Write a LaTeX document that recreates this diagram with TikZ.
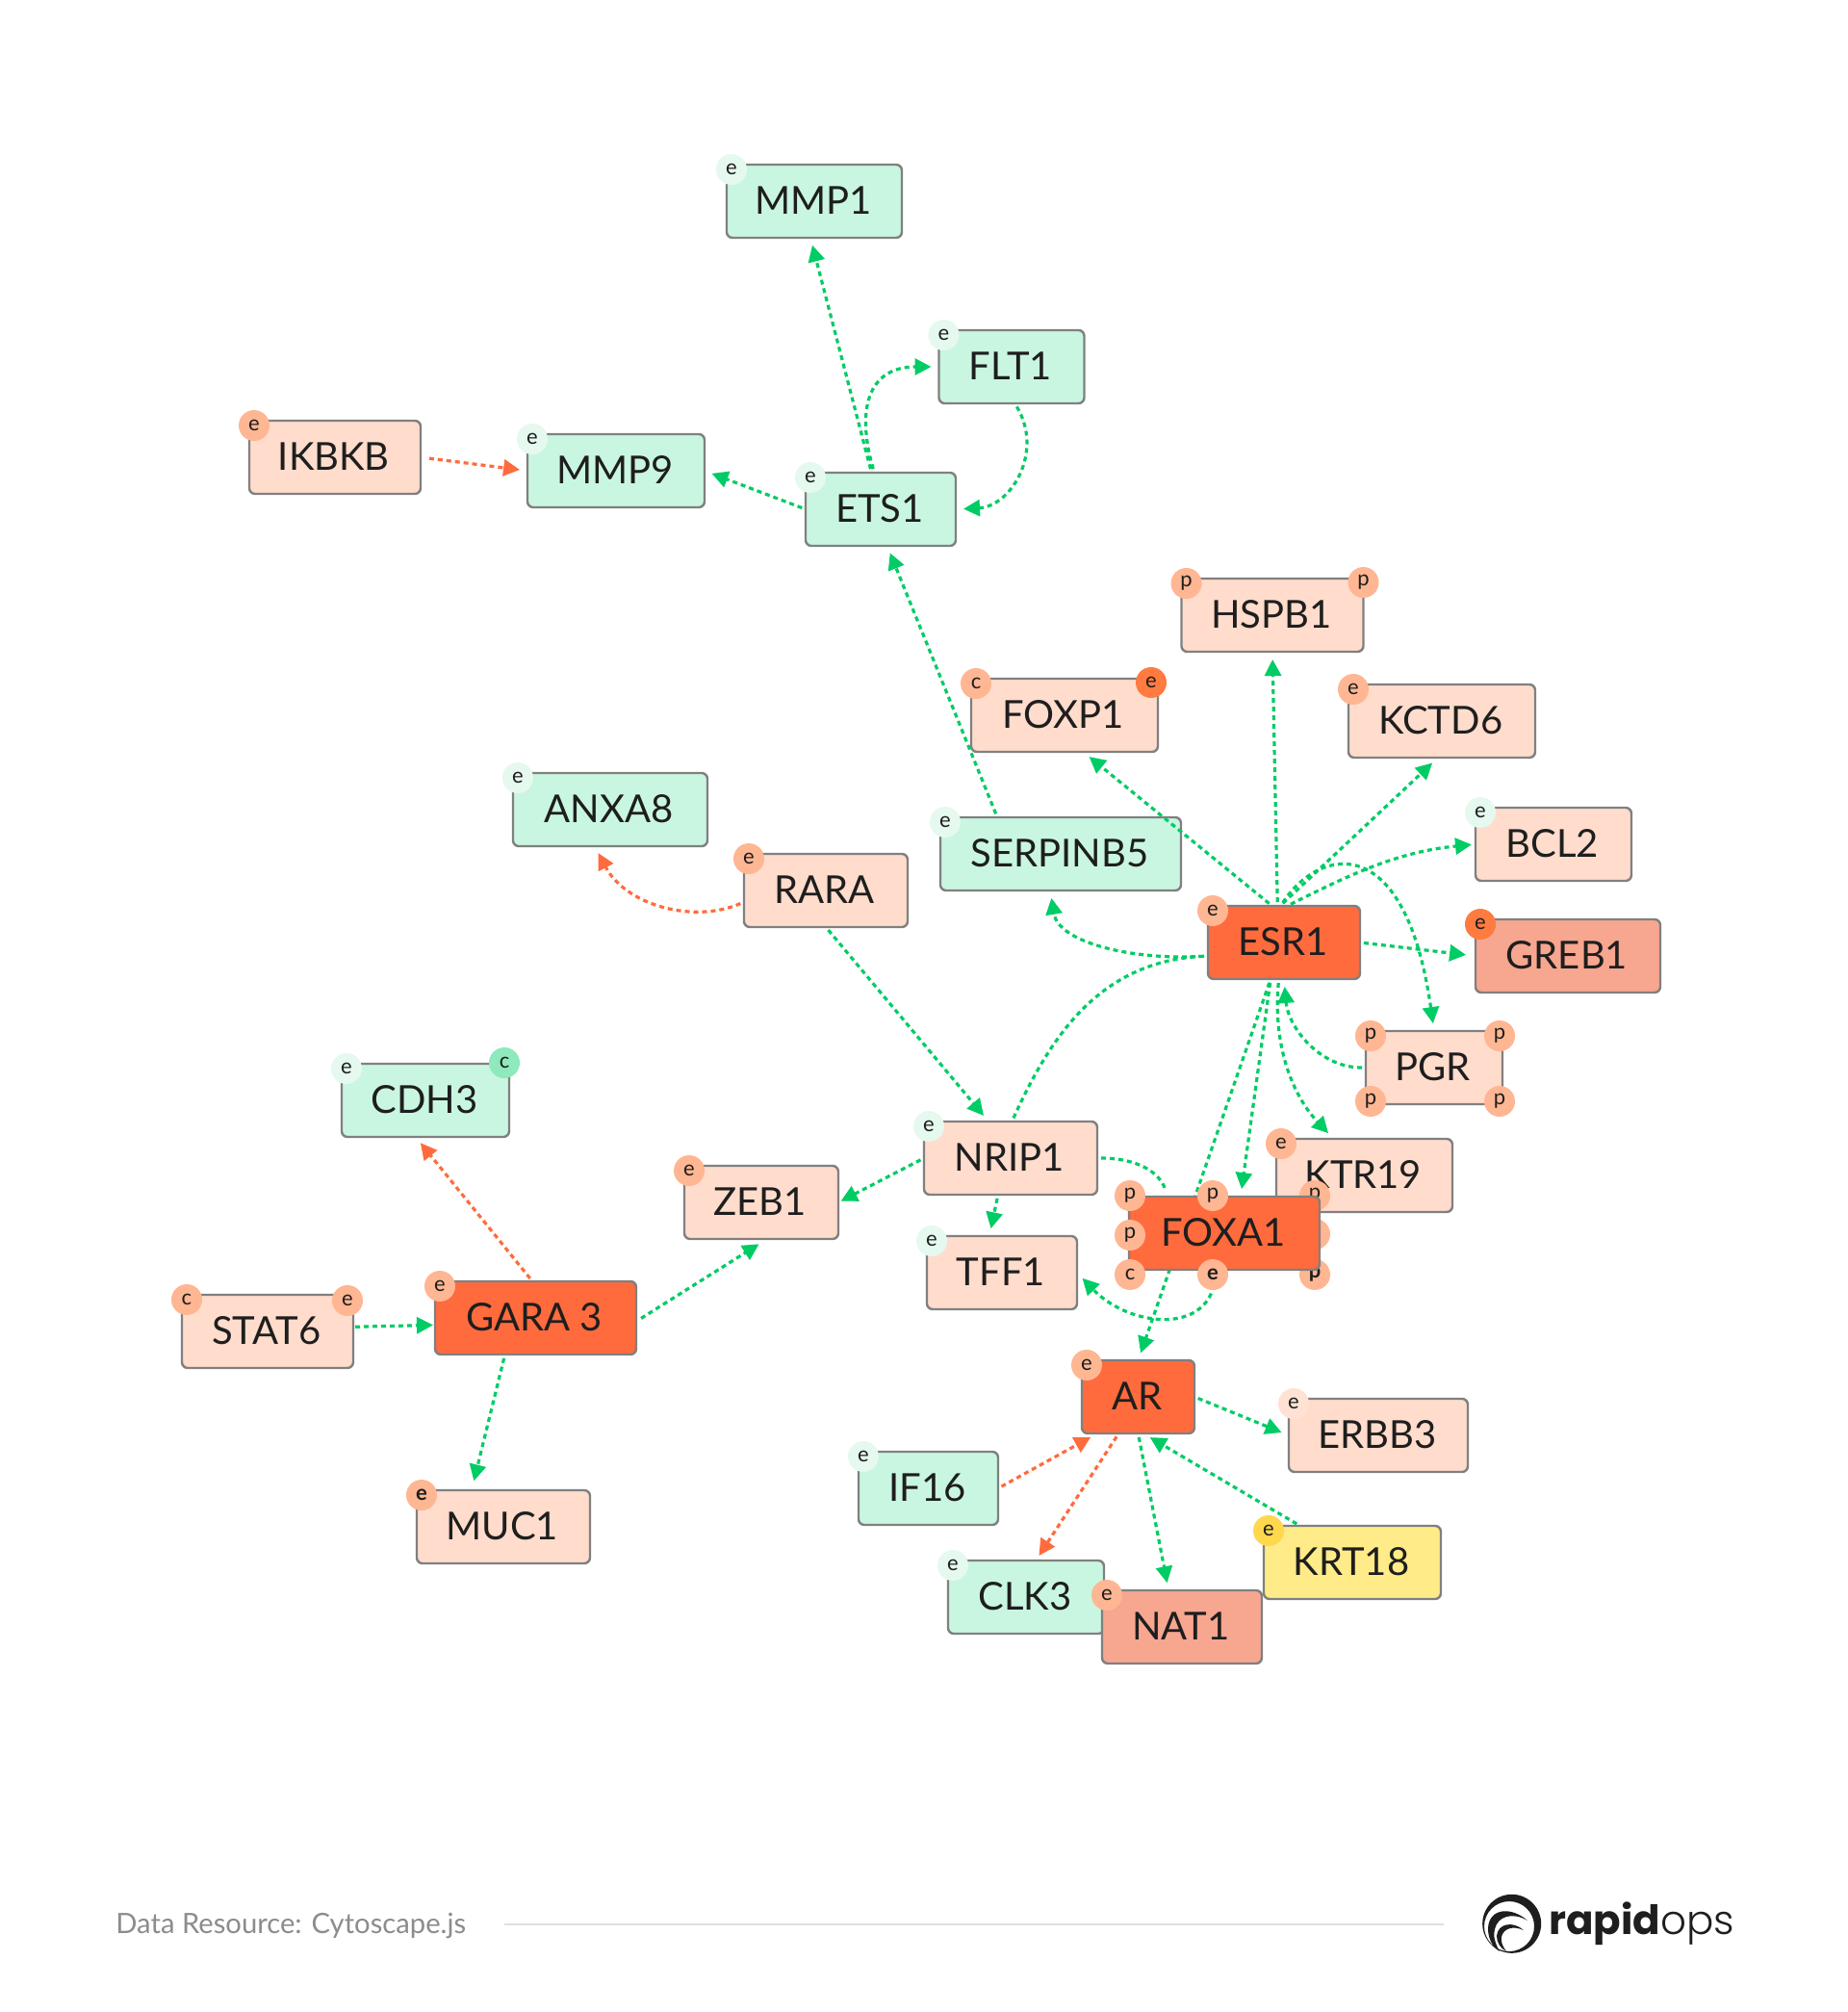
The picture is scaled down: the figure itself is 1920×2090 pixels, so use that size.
\documentclass[tikz,border=0pt]{standalone}
\usepackage{fontspec}
\setmainfont{Lato}
\newfontfamily\logofont{Poppins}
\newfontfamily\logolight{Poppins Light}
\usetikzlibrary{arrows.meta,calc}
\definecolor{peach}{HTML}{FFDCCC}
\definecolor{mint}{HTML}{C9F6E0}
\definecolor{hot}{HTML}{FF6B3D}
\definecolor{salmon}{HTML}{F7A68F}
\definecolor{lemon}{HTML}{FFEB87}
\definecolor{badgepeach}{HTML}{FFB693}
\definecolor{badgemint}{HTML}{E5F9EF}
\definecolor{badgehot}{HTML}{FF7B3F}
\definecolor{badgeteal}{HTML}{8EE9BC}
\definecolor{badgelemon}{HTML}{FFD84D}
\definecolor{badgepale}{HTML}{FFE2D4}
\definecolor{flowgreen}{HTML}{00CC66}
\definecolor{inkdark}{HTML}{1E1E1E}
\tikzset{
    gene/.style={draw=black!50,line width=1.2pt,rounded corners=3pt,minimum height=38pt,inner sep=0pt,outer sep=0pt,text=inkdark,text depth=0.8pt,font=\fontsize{20}{22}\selectfont,execute at end node=\hspace{1.2pt}},
    badge/.style={circle,minimum size=16pt,inner sep=0pt,outer sep=0pt,text=inkdark,font=\fontsize{11}{12}\selectfont},
    heavybadge/.style={badge,font=\fontsize{11}{12}\selectfont\bfseries},
    flow/.style={->,draw=flowgreen,line width=1.6pt,dash pattern=on 2.5pt off 2pt,shorten >=4pt,shorten <=2pt},
    flowred/.style={flow,draw=hot}
}
\begin{document}
\begin{tikzpicture}[x=0.5pt,y=-0.5pt,>={Triangle[length=8.5pt,width=8.5pt]}]
    \path[use as bounding box,fill=white] (0,0) rectangle (1920,2090);

    \node[gene,fill=mint,minimum width=91pt] (MMP1) at (846,209) {MMP1};
    \node[gene,fill=mint,minimum width=75.5pt] (FLT1) at (1051,381) {FLT1};
    \node[gene,fill=peach,minimum width=89pt] (IKBKB) at (348,475) {IKBKB};
    \node[gene,fill=mint,minimum width=92pt] (MMP9) at (640,489) {MMP9};
    \node[gene,fill=mint,minimum width=78pt] (ETS1) at (915,529) {ETS1};
    \node[gene,fill=peach,minimum width=94.5pt] (HSPB1) at (1322,639) {HSPB1};
    \node[gene,fill=peach,minimum width=97pt] (FOXP1) at (1106,743) {FOXP1};
    \node[gene,fill=peach,minimum width=97pt] (KCTD6) at (1498,749) {KCTD6};
    \node[gene,fill=mint,minimum width=101pt] (ANXA8) at (634,841) {ANXA8};
    \node[gene,fill=mint,minimum width=125pt] (SERPINB5) at (1102,887) {SERPINB5};
    \node[gene,fill=peach,minimum width=81pt] (BCL2) at (1614,877) {BCL2};
    \node[gene,fill=peach,minimum width=85pt] (RARA) at (858,925) {RARA};
    \node[gene,fill=hot,minimum width=79pt] (ESR1) at (1334,979) {ESR1};
    \node[gene,fill=salmon,minimum width=96pt] (GREB1) at (1629,993) {GREB1};
    \node[gene,fill=peach,minimum width=71pt] (PGR) at (1490,1109) {PGR};
    \node[gene,fill=peach,minimum width=91.5pt] (KTR19) at (1417.5,1221) {KTR19};
    \node[gene,fill=mint,minimum width=87pt] (CDH3) at (442,1143) {CDH3};
    \node[gene,fill=peach,minimum width=90pt] (NRIP1) at (1050,1203) {NRIP1};
    \node[gene,fill=peach,minimum width=80pt] (ZEB1) at (791,1249) {ZEB1};
    \node[gene,fill=peach,minimum width=78pt] (TFF1) at (1041,1322) {TFF1};
    \node[gene,fill=hot,minimum width=104.5pt] (GARA3) at (556.5,1369) {GARA 3};
    \node[gene,fill=peach,minimum width=89pt] (STAT6) at (278,1383) {STAT6};
    \node[gene,fill=hot,minimum width=58.5pt] (AR) at (1182.5,1451) {AR};
    \node[gene,fill=peach,minimum width=93pt] (ERBB3) at (1432,1491) {ERBB3};
    \node[gene,fill=mint,minimum width=72.5pt] (IF16) at (964.5,1546) {IF16};
    \node[gene,fill=lemon,minimum width=92pt] (KRT18) at (1405,1623) {KRT18};
    \node[gene,fill=mint,minimum width=81pt] (CLK3) at (1066,1659) {CLK3};
    \node[gene,fill=salmon,minimum width=83pt] (NAT1) at (1228,1690) {NAT1};
    \node[gene,fill=peach,minimum width=90pt] (MUC1) at (523,1586) {MUC1};

    \draw[flow] (ETS1.104) -- (MMP1.-96);
    \draw[flow] (ETS1.100) .. controls (888,420) and (905,381) .. (FLT1.west);
    \draw[flow] (FLT1.-85) .. controls (1085,470) and (1050,526) .. (ETS1.east);
    \draw[flow] (ETS1.west) -- (MMP9.east);
    \draw[flowred,shorten <=4.5pt] (IKBKB.east) -- (MMP9.west);
    \draw[flow] (SERPINB5.150) -- (ETS1.-80);
    \draw[flow] (ESR1.108) -- (FOXP1.-63);
    \draw[flow] (ESR1.100) -- (HSPB1.south);
    \draw[flow] (ESR1.96) -- (KCTD6.-96);
    \draw[flow,shorten >=2pt] (ESR1.85) .. controls (1400,910) and (1450,885) .. (BCL2.west);
    \draw[flow] (ESR1.95) .. controls (1370,880) and (1460,860) .. (PGR.north);
    \draw[flow] (ESR1.190) .. controls (1180,998) and (1100,980) .. (SERPINB5.-106);
    \draw[flow,-] (NRIP1.88) .. controls (1090,1080) and (1140,1000) .. (ESR1.190);
    \draw[flow,shorten >=5pt] (ESR1.east) -- (GREB1.west);
    \draw[flow] (PGR.west) to[out=180,in=-85] (ESR1.south);
    \draw[flow] (ESR1.-98) .. controls (1322,1090) and (1345,1140) .. (KTR19.130);
    \draw[flow] (ESR1.-110) -- (AR.north);
    \draw[flow] (RARA.south) -- (NRIP1.121);
    \draw[flowred] (RARA.188) .. controls (720,960) and (650,940) .. (ANXA8.-113);
    \draw[flow,shorten >=1.5pt] (NRIP1.west) -- (ZEB1.east);
    \draw[flow] (NRIP1.-109) -- (TFF1.109);
    \draw[flowred] (GARA3.95) -- (CDH3.-105);
    \draw[flow,shorten >=5pt,shorten <=3pt] (GARA3.-2) -- (ZEB1.-81);
    \draw[flow,shorten >=1pt,shorten <=1pt] (STAT6.3) -- (GARA3.184);
    \draw[flow,shorten >=5pt] (GARA3.-130) -- (MUC1.131);
    \draw[flow] (AR.east) -- (ERBB3.west);
    \draw[flowred] (IF16.east) -- (AR.-138);
    \draw[flowred,shorten >=3pt] (AR.-118) -- (CLK3.75);
    \draw[flow] (AR.south) -- (NAT1.110);
    \draw[flow] (KRT18.145) -- (AR.-82);

    \node[badge,fill=badgepeach] (KTR19-p) at (1366,1242) {p};
    \node[badge,fill=badgepeach] (FOXA1-q) at (1366,1282) {p};
    \node[heavybadge,fill=badgepeach] (FOXA1-r) at (1366,1324) {p};
    \node[gene,fill=hot,minimum width=99pt] (FOXA1) at (1272,1281) {FOXA1};
    \node[badge,fill=badgepeach] (FOXA1-a) at ($(FOXA1.north west)+(1,-1)$) {p};
    \node[badge,fill=badgepeach] (FOXA1-b) at ($(FOXA1.west)+(1,2)$) {p};
    \node[badge,fill=badgepeach] (FOXA1-c) at ($(FOXA1.south west)+(1,5)$) {c};
    \node[badge,fill=badgepeach] (FOXA1-d) at ($(FOXA1.north)+(-12,-1)$) {p};
    \node[heavybadge,fill=badgepeach] (FOXA1-e) at ($(FOXA1.south)+(-12,5)$) {e};
    \draw[flow,-] (NRIP1.east) to[out=0,in=110] (FOXA1.147);
    \draw[flow] (ESR1.-110) -- (FOXA1.66);
    \draw[flow] (FOXA1-e.south) .. controls (1240,1385) and (1170,1375) .. (TFF1.east);

    \foreach \gene in {MMP1,FLT1,MMP9,ETS1,ANXA8,SERPINB5,BCL2,CDH3,NRIP1,TFF1,IF16,CLK3}
        \node[badge,fill=badgemint] (\gene-e) at ($(\gene.north west)+(5,5)$) {e};
    \foreach \gene in {IKBKB,KCTD6,RARA,ESR1,ZEB1,GARA3,KTR19,AR,NAT1}
        \node[badge,fill=badgepeach] (\gene-e) at ($(\gene.north west)+(5,5)$) {e};
    \foreach \gene in {HSPB1,PGR}
        \node[badge,fill=badgepeach] (\gene-a) at ($(\gene.north west)+(5,5)$) {p};
    \node[heavybadge,fill=badgepeach] (MUC1-e) at ($(MUC1.north west)+(5,5)$) {e};
    \node[badge,fill=badgehot] (GREB1-e) at ($(GREB1.north west)+(5,5)$) {e};
    \node[badge,fill=badgelemon] (KRT18-e) at ($(KRT18.north west)+(5,5)$) {e};
    \node[badge,fill=badgepale] (ERBB3-e) at ($(ERBB3.north west)+(5,5)$) {e};
    \node[badge,fill=badgepeach] (FOXP1-c) at ($(FOXP1.north west)+(5,5)$) {c};
    \node[badge,fill=badgehot] (FOXP1-e) at ($(FOXP1.north east)+(-7,4)$) {e};
    \node[badge,fill=badgepeach] (HSPB1-b) at ($(HSPB1.north east)+(0,4)$) {p};
    \node[badge,fill=badgeteal] (CDH3-c) at ($(CDH3.north east)+(-5,-1)$) {c};
    \node[badge,fill=badgepeach] (STAT6-c) at ($(STAT6.north west)+(5,5)$) {c};
    \node[badge,fill=badgepeach] (STAT6-e) at ($(STAT6.north east)+(-6,6)$) {e};
    \node[badge,fill=badgepeach] (PGR-b) at ($(PGR.north east)+(-3,5)$) {p};
    \node[badge,fill=badgepeach] (PGR-c) at ($(PGR.south west)+(5,-3)$) {p};
    \node[badge,fill=badgepeach] (PGR-d) at ($(PGR.south east)+(-3,-3)$) {p};

    \node[anchor=west,inner sep=0pt,text=black!45,font=\fontsize{14.6}{17}\selectfont] (credit) at (120,2000) {Data Resource: Cytoscape.js};
    \node[anchor=west,inner sep=0pt,text=inkdark,font=\fontsize{21}{25}\selectfont] (brand) at (1609,1998) {{\logofont\bfseries rapid}{\logolight ops}};
    \coordinate (ruleleft) at (524,1999);
    \coordinate (ruleright) at (1500,1999);
    \draw[black!12,line width=1pt] (ruleleft) -- (ruleright);
    \fill[inkdark,even odd rule] (1570.7,1998.3) circle (30.5) (1568,2001) circle (26);
    \fill[inkdark] (1587,1995) .. controls (1570,1980) and (1547,1982) .. (1546,2003) .. controls (1546,2013) and (1550,2022) .. (1558,2027) .. controls (1553,2018) and (1551,2010) .. (1553,2004) .. controls (1556,1990) and (1572,1986) .. cycle;
    \fill[inkdark] (1583,2005) .. controls (1572,1995) and (1556,1998) .. (1555,2011) .. controls (1555,2018) and (1559,2024) .. (1565,2027) .. controls (1561,2022) and (1559,2016) .. (1560,2012) .. controls (1562,2003) and (1572,2000) .. cycle;
\end{tikzpicture}
\end{document}
